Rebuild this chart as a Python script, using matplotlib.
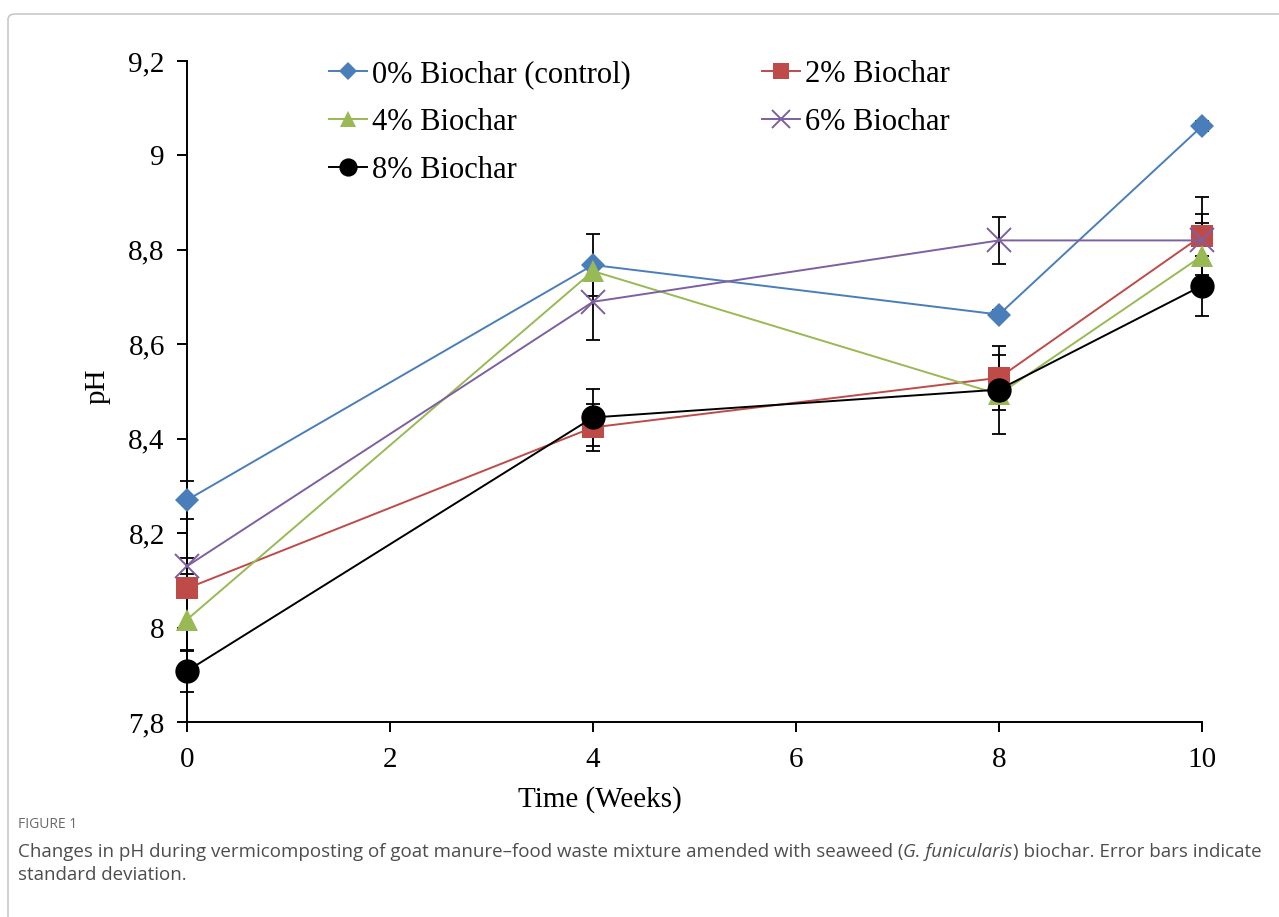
import matplotlib.pyplot as plt
from matplotlib.patches import FancyBboxPatch

weeks = [0, 4, 8, 10]

ph_0 = [8.27, 8.768, 8.663, 9.062]
ph_2 = [8.083, 8.424, 8.529, 8.830]
ph_4 = [8.017, 8.755, 8.494, 8.787]
ph_6 = [8.130, 8.690, 8.820, 8.820]
ph_8 = [7.908, 8.445, 8.504, 8.724]

sd_0 = [0.041, 0.066, 0.010, 0.010]
sd_2 = [0.020, 0.050, 0.068, 0.083]
sd_4 = [0.066, 0.010, 0.084, 0.070]
sd_6 = [0.017, 0.080, 0.049, 0.055]
sd_8 = [0.045, 0.060, 0.020, 0.064]

labels = ['0% Biochar (control)', '2% Biochar', '4% Biochar', '6% Biochar', '8% Biochar']
y_ticks = [7.8, 8.0, 8.2, 8.4, 8.6, 8.8, 9.0, 9.2]
y_tick_labels = ['7,8', '8', '8,2', '8,4', '8,6', '8,8', '9', '9,2']
x_ticks = [0, 2, 4, 6, 8, 10]

serif = 'Liberation Serif'

fig = plt.figure(figsize=(12.79, 9.17), dpi=100)
ax = fig.add_axes([187/1279, 1 - 722/917, 1015/1279, 661/917])

series = [
    (ph_0, sd_0, '#4A7EBB', 'D', 12.5),
    (ph_2, sd_2, '#BE4B48', 's', 16),
    (ph_4, sd_4, '#98B954', '^', 16),
    (ph_6, sd_6, '#7D60A0', 'x', 17),
    (ph_8, sd_8, 'black', 'o', 17.5),
]

handles = []
for (vals, sd, col, mk, ms), lab in zip(series, labels):
    ax.errorbar(weeks, vals, yerr=sd, fmt='none', ecolor='black', elinewidth=1.3,
                capsize=5, capthick=1.3, zorder=2, clip_on=False)
    mew = 1.4 if mk == 'x' else 0
    h, = ax.plot(weeks, vals, color=col, lw=1.4, marker=mk, ms=ms,
                 markeredgewidth=mew, markeredgecolor=col, label=lab,
                 zorder=3, clip_on=False)
    handles.append(h)

ax.set_xlim(0, 10)
ax.set_ylim(7.8, 9.2)
ax.set_xticks(x_ticks)
ax.set_yticks(y_ticks)
ax.set_yticklabels(y_tick_labels)
for s in ['top', 'right']:
    ax.spines[s].set_visible(False)
for s in ['left', 'bottom']:
    ax.spines[s].set_linewidth(1.4)
ax.tick_params(direction='out', length=7, width=1.4, labelsize=21)
ax.tick_params(axis='x', pad=11)
ax.tick_params(axis='y', pad=9)
for t in ax.get_xticklabels() + ax.get_yticklabels():
    t.set_family(serif)

ax.set_xlabel('Time (Weeks)', fontsize=21, family=serif)
ax.xaxis.set_label_coords((600 - 187) / 1015, -0.097)
ax.set_ylabel('pH', fontsize=21, family=serif)
ax.yaxis.set_label_coords(-0.075, 0.508)

# legend, row-major order
order = [0, 2, 4, 1, 3]
leg = ax.legend([handles[i] for i in order], [labels[i] for i in order],
                ncol=2, loc='upper left', bbox_to_anchor=(0.113, 1.043),
                frameon=False, prop={'family': serif, 'size': 22},
                handlelength=1.25, handletextpad=0.15, columnspacing=4.3,
                labelspacing=0.62, markerscale=0.75)

# light frame around the figure
frame = FancyBboxPatch((8/1279, -0.1), 1.2, 1 - 14/917 + 0.1,
                       boxstyle='round,pad=0,rounding_size=0.006',
                       transform=fig.transFigure, fill=False,
                       edgecolor='#c8c8c8', lw=1.2)
fig.patches.append(frame)

# caption
cap_font = 'Open Sans'
cap_size = 13.5
fig.text(18/1279, 1 - 825/917, 'FIGURE 1', fontsize=10, color='#6a6a6a',
         family=cap_font, va='center')
fig.canvas.draw()
renderer = fig.canvas.get_renderer()
pieces = [('Changes in pH during vermicomposting of goat manure\u2013food waste mixture amended with seaweed (', 'normal'),
          ('G. funicularis', 'italic'),
          (') biochar. Error bars indicate', 'normal')]
x = 18/1279
y1 = 1 - 852/917
for txt, style in pieces:
    t = fig.text(x, y1, txt, fontsize=cap_size, color='#4d4d4d', family=cap_font,
                 style=style, va='center')
    bb = t.get_window_extent(renderer=renderer)
    x += bb.width / fig.bbox.width
fig.text(18/1279, 1 - 875/917, 'standard deviation.', fontsize=cap_size,
         color='#4d4d4d', family=cap_font, va='center')

fig.savefig('out.png', dpi=100)
